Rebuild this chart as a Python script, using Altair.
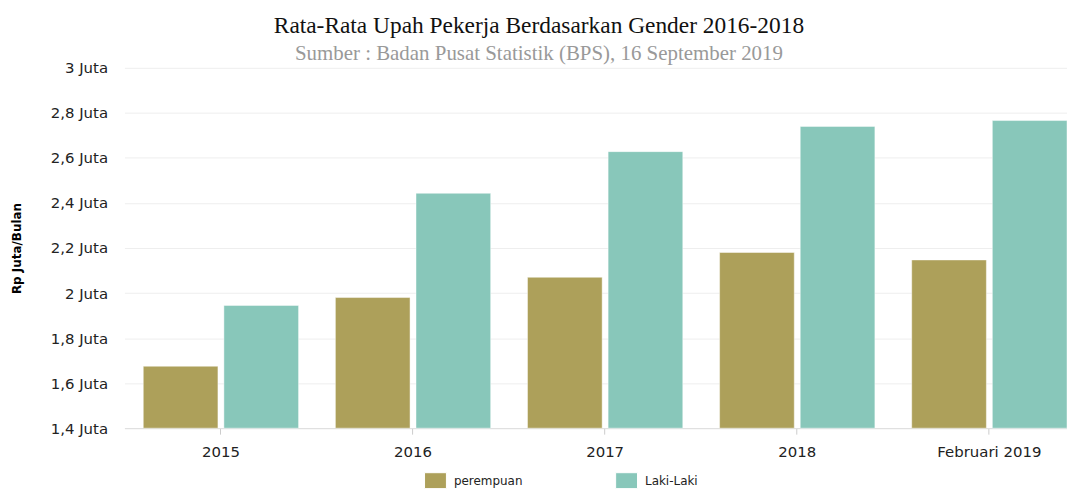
import altair as alt
import pandas as pd

categories = ["2015", "2016", "2017", "2018", "Februari 2019"]
perempuan = [1.675, 1.98, 2.07, 2.18, 2.147]
laki_laki = [1.945, 2.443, 2.628, 2.74, 2.766]
series = ["perempuan", "Laki-Laki"]
colors = ["#ADA05A", "#88C7BA"]
y_ticks = [1.4, 1.6, 1.8, 2.0, 2.2, 2.4, 2.6, 2.8, 3.0]

rows = []
for i, c in enumerate(categories):
    rows.append({"tahun": c, "gender": series[0], "nilai": perempuan[i]})
    rows.append({"tahun": c, "gender": series[1], "nilai": laki_laki[i]})
df = pd.DataFrame(rows)

chart = alt.Chart(df).mark_bar(
    stroke="#ffffff", strokeOpacity=0.45, strokeWidth=1, opacity=1
).encode(
    x=alt.X("tahun:N", sort=categories,
            scale=alt.Scale(paddingInner=0.1917, paddingOuter=0.049, align=1),
            axis=alt.Axis(title=None, labelAngle=0, labelFont="DejaVu Sans",
                          labelFontSize=15, labelColor="#222222", labelPadding=10,
                          domainColor="#dddddd", tickColor="#cccccc", tickSize=6,
                          ticks=True, grid=False)),
    xOffset=alt.XOffset("gender:N", sort=series, scale=alt.Scale(paddingInner=0.074)),
    y=alt.Y("nilai:Q", scale=alt.Scale(domain=[1.4, 3.0], zero=False, nice=False),
            axis=alt.Axis(title="Rp Juta/Bulan", values=y_ticks,
                          labelExpr="replace(format(datum.value, '.1~f'), '.', ',') + ' Juta'",
                          labelFont="DejaVu Sans", labelFontSize=15, labelColor="#222222",
                          labelPadding=17, titleFont="DejaVu Sans", titleFontSize=12,
                          titleFontWeight="bold", titleColor="#000000", titlePadding=27,
                          gridColor="#eeeeee", domain=False, ticks=False)),
    y2=alt.datum(1.4),
    color=alt.Color("gender:N", sort=series,
                    scale=alt.Scale(domain=series, range=colors),
                    legend=alt.Legend(title=None, orient="none", legendX=301, legendY=403,
                                      direction="horizontal", columns=2, padding=0,
                                      symbolType="M-1,-0.727H1V0.727H-1Z", symbolSize=484,
                                      symbolStrokeColor="#ffffff", symbolStrokeWidth=1,
                                      symbolOpacity=1,
                                      labelFont="DejaVu Sans", labelFontSize=12,
                                      labelColor="#222222", labelOffset=7,
                                      columnPadding=91, gridAlign="all")),
).properties(
    width=947,
    height=362,
    title=alt.TitleParams(
        text="Rata-Rata Upah Pekerja Berdasarkan Gender 2016-2018",
        subtitle="Sumber : Badan Pusat Statistik (BPS), 16 September 2019",
        font="Liberation Serif", fontSize=23.5, fontWeight="normal", color="#111111",
        subtitleFont="Liberation Serif", subtitleFontSize=21, subtitleColor="#999999",
        subtitlePadding=6, anchor="middle", frame="bounds", offset=-3,
    ),
    autosize=alt.AutoSizeParams(type="none"),
    padding={"left": 117, "top": 59, "right": 0, "bottom": 62},
).configure_view(stroke=None)

chart.save("out.html", embed_options={"renderer": "svg", "actions": False})
